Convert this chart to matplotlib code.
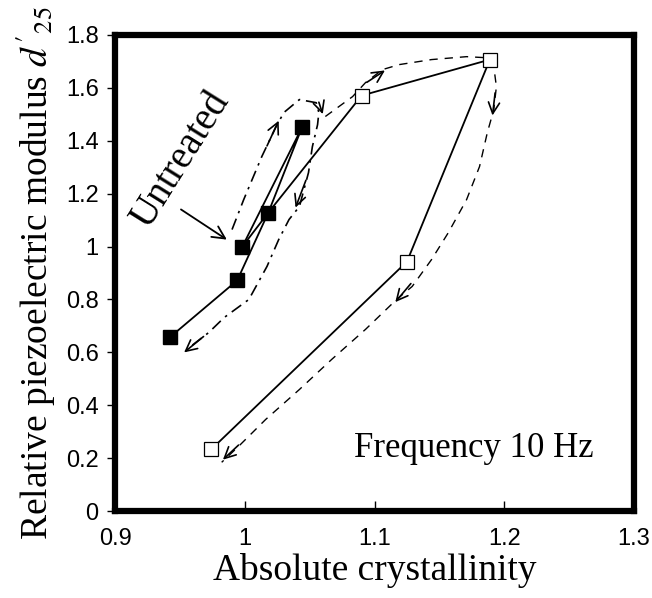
import numpy as np
import matplotlib
matplotlib.use("Agg")
import matplotlib.pyplot as plt

plt.rcParams["mathtext.fontset"] = "stix"

# Data
# untreated sample (filled squares), order of the solid line
untreated_x = [0.998, 1.044, 1.018, 0.994, 0.942]
untreated_y = [1.000, 1.450, 1.128, 0.872, 0.657]

# treated sample (open squares), starts from the untreated 1.12 point
treated_x = [0.998, 1.018, 1.090, 1.189, 1.125, 0.974]
treated_y = [1.000, 1.128, 1.570, 1.706, 0.943, 0.234]

# hand-drawn guide curves
guide_untreated_x = [0.990, 0.999, 1.013, 1.024, 1.030, 1.042, 1.055, 1.057, 1.056,
                     1.052, 1.049, 1.042, 1.034, 1.026, 1.017, 1.003, 0.984, 0.972, 0.955]
guide_untreated_y = [1.064, 1.177, 1.340, 1.453, 1.506, 1.555, 1.543, 1.506, 1.460,
                     1.377, 1.279, 1.151, 1.102, 1.026, 0.925, 0.800, 0.732, 0.675, 0.611]

guide_treated_x = [1.062, 1.083, 1.093, 1.106, 1.119, 1.144, 1.171, 1.186, 1.192, 1.194,
                   1.192, 1.187, 1.181, 1.171, 1.157, 1.144, 1.129, 1.117, 1.093, 1.067,
                   1.042, 1.016, 0.995, 0.982]
guide_treated_y = [1.491, 1.566, 1.619, 1.668, 1.687, 1.706, 1.717, 1.713, 1.679, 1.604,
                   1.517, 1.430, 1.302, 1.177, 1.053, 0.951, 0.849, 0.800, 0.687, 0.574,
                   0.460, 0.347, 0.245, 0.185]

# arrow heads along the guide curves (tail -> tip)
arrow_tail = [(1.017, 1.38), (1.057, 1.545), (1.047, 1.25), (0.968, 0.66),
              (1.094, 1.62), (1.193, 1.58), (1.128, 0.86), (0.995, 0.25)]
arrow_tip = [(1.026, 1.475), (1.060, 1.500), (1.039, 1.147), (0.953, 0.600),
             (1.108, 1.665), (1.191, 1.495), (1.116, 0.790), (0.983, 0.195)]

xticks = [0.9, 1.0, 1.1, 1.2, 1.3]
xtick_labels = ["0.9", "1", "1.1", "1.2", "1.3"]
yticks = [0, 0.2, 0.4, 0.6, 0.8, 1.0, 1.2, 1.4, 1.6, 1.8]
ytick_labels = ["0", "0.2", "0.4", "0.6", "0.8", "1", "1.2", "1.4", "1.6", "1.8"]

serif = "Liberation Serif"
sans = "Liberation Sans"

fig = plt.figure(figsize=(6.52, 5.98), dpi=100)
ax = fig.add_axes([0.177, 0.145, 0.795, 0.797])

# guide curves
ax.plot(guide_untreated_x, guide_untreated_y, color="black", lw=1.2,
        linestyle=(0, (7, 3.5, 1.5, 3.5)))
ax.plot(guide_treated_x, guide_treated_y, color="black", lw=1.0,
        linestyle=(0, (6, 5)))

for (tx, ty), (hx, hy) in zip(arrow_tail, arrow_tip):
    ax.annotate("", xy=(hx, hy), xytext=(tx, ty),
                arrowprops=dict(arrowstyle="->,head_length=0.8,head_width=0.4",
                                color="black", lw=1.2, shrinkA=0, shrinkB=0))

# solid data lines
ax.plot(treated_x, treated_y, color="black", lw=1.3, zorder=3)
ax.plot(treated_x[2:], treated_y[2:], linestyle="none", marker="s", ms=9.5,
        mfc="white", mec="black", mew=0.9, zorder=4)
ax.plot(untreated_x, untreated_y, color="black", lw=1.3, marker="s", ms=9.5,
        mfc="black", mec="black", zorder=5)

# annotations
ax.annotate("", xy=(0.986, 1.026), xytext=(0.9506, 1.14),
            arrowprops=dict(arrowstyle="->,head_length=0.9,head_width=0.45",
                            color="black", lw=1.3, shrinkA=0, shrinkB=0))
ax.text(0.950, 1.325, "Untreated", rotation=58, ha="center", va="center",
        fontsize=28, family=serif)
ax.text(1.084, 0.204, "Frequency 10 Hz", ha="left", va="baseline",
        fontsize=25, family=serif)

ax.set_xlim(0.9, 1.3)
ax.set_ylim(0, 1.8)
ax.set_xticks(xticks)
ax.set_xticklabels(xtick_labels, family=sans, fontsize=17)
ax.set_yticks(yticks)
ax.set_yticklabels(ytick_labels, family=sans, fontsize=17)
ax.tick_params(axis="x", direction="in", length=7, width=1, pad=12, top=False)
ax.tick_params(axis="y", direction="out", length=6, width=1, pad=6, right=False)

for s in ax.spines.values():
    s.set_linewidth(4.5)

ax.set_xlabel("Absolute crystallinity", family=serif, fontsize=27, labelpad=2)
ax.set_ylabel(r"Relative piezoelectric modulus $d'_{25}$", family=serif,
              fontsize=27, labelpad=6)

fig.savefig("out.png", dpi=100, facecolor="white")
